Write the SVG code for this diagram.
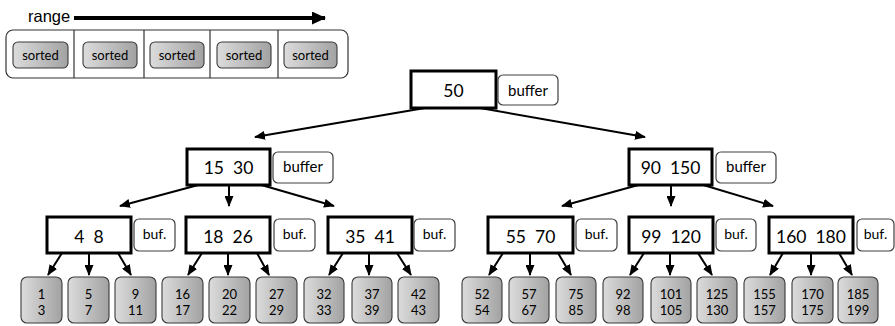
<svg xmlns="http://www.w3.org/2000/svg" width="895" height="326" viewBox="0 0 895 326">
<defs>
<linearGradient id="g" x1="0" y1="0" x2="1" y2="0">
<stop offset="0" stop-color="#dcdcdc"/>
<stop offset="1" stop-color="#a2a2a2"/>
</linearGradient>
<marker id="ah" markerUnits="userSpaceOnUse" markerWidth="11" markerHeight="9" refX="10" refY="4.5" orient="auto">
<path d="M0,0 L11,4.5 L0,9 z" fill="#000"/>
</marker>
<marker id="big" markerUnits="userSpaceOnUse" markerWidth="14" markerHeight="13" refX="13" refY="6.5" orient="auto">
<path d="M0,0 L14,6.5 L0,13 z" fill="#000"/>
</marker>
</defs>
<style>
text{font-family:Lato,"Open Sans",sans-serif;fill:#000;text-anchor:middle}
.node{fill:#fff;stroke:#000;stroke-width:3}
.buf{fill:#fff;stroke:#404040;stroke-width:1.2}
.leaf{fill:url(#g);stroke:#3a3a3a;stroke-width:1.1}
.nt{font-size:17.5px;white-space:pre}
.bt{font-size:15px}
.bs{font-size:14px}
.lt{font-size:13px}
.st{font-size:13px}
.edge{stroke:#000;stroke-width:2;fill:none;marker-end:url(#ah)}
</style>

<g id="legend">
<text x="28" y="22" style="font-family:'Liberation Sans',Arial,sans-serif;font-size:16.5px;text-anchor:start">range</text>
<line x1="74" y1="18" x2="325" y2="18" stroke="#000" stroke-width="4" marker-end="url(#big)"/>
<rect x="6" y="30" width="342" height="48" rx="7" fill="#fff" stroke="#333" stroke-width="1.2"/>
<line x1="74" y1="30" x2="74" y2="78" stroke="#333" stroke-width="1.2"/>
<line x1="144" y1="30" x2="144" y2="78" stroke="#333" stroke-width="1.2"/>
<line x1="210" y1="30" x2="210" y2="78" stroke="#333" stroke-width="1.2"/>
<line x1="278" y1="30" x2="278" y2="78" stroke="#333" stroke-width="1.2"/>
<rect class="leaf" x="13" y="42" width="55" height="26" rx="5"/><text class="st" x="40.5" y="59.5">sorted</text>
<rect class="leaf" x="83" y="42" width="54" height="26" rx="5"/><text class="st" x="110" y="59.5">sorted</text>
<rect class="leaf" x="150" y="42" width="54" height="26" rx="5"/><text class="st" x="177" y="59.5">sorted</text>
<rect class="leaf" x="217" y="42" width="54" height="26" rx="5"/><text class="st" x="244" y="59.5">sorted</text>
<rect class="leaf" x="284" y="42" width="53" height="26" rx="5"/><text class="st" x="310.5" y="59.5">sorted</text>
</g>

<g id="connectors">
<line class="edge" x1="425" y1="108" x2="255" y2="137"/>
<line class="edge" x1="480" y1="108" x2="645" y2="137"/>
<line class="edge" x1="202" y1="184" x2="120" y2="206"/>
<line class="edge" x1="229" y1="186" x2="229" y2="206"/>
<line class="edge" x1="258" y1="184" x2="334" y2="206"/>
<line class="edge" x1="642" y1="184" x2="562" y2="206"/>
<line class="edge" x1="671" y1="186" x2="671" y2="206"/>
<line class="edge" x1="700" y1="184" x2="773" y2="206"/>
<line class="edge" x1="62" y1="253" x2="48" y2="275"/>
<line class="edge" x1="89" y1="254" x2="89" y2="275"/>
<line class="edge" x1="118" y1="253" x2="131" y2="275"/>
<line class="edge" x1="202" y1="253" x2="188" y2="275"/>
<line class="edge" x1="228" y1="254" x2="228" y2="275"/>
<line class="edge" x1="257" y1="253" x2="269" y2="275"/>
<line class="edge" x1="343" y1="253" x2="329" y2="275"/>
<line class="edge" x1="369" y1="254" x2="369" y2="275"/>
<line class="edge" x1="397" y1="253" x2="411" y2="275"/>
<line class="edge" x1="503" y1="253" x2="489" y2="275"/>
<line class="edge" x1="530" y1="254" x2="530" y2="275"/>
<line class="edge" x1="558" y1="253" x2="571" y2="275"/>
<line class="edge" x1="644" y1="253" x2="630" y2="275"/>
<line class="edge" x1="670" y1="254" x2="670" y2="275"/>
<line class="edge" x1="698" y1="253" x2="712" y2="275"/>
<line class="edge" x1="783" y1="253" x2="770" y2="275"/>
<line class="edge" x1="811" y1="254" x2="811" y2="275"/>
<line class="edge" x1="839" y1="253" x2="852" y2="275"/>
</g>

<g id="n50"><rect class="node" x="411" y="71" width="85" height="37"/><text class="nt" x="453.5" y="97">50</text></g>
<g id="b50"><rect class="buf" x="498" y="75" width="60" height="30" rx="5"/><text class="bt" x="528" y="96">buffer</text></g>

<g id="n15_30"><rect class="node" x="187" y="149" width="83" height="36"/><text class="nt" x="228.5" y="174">15  30</text></g>
<g id="b15_30"><rect class="buf" x="273" y="152" width="60" height="31" rx="5"/><text class="bt" x="303" y="172">buffer</text></g>

<g id="n90_150"><rect class="node" x="629" y="149" width="83" height="36"/><text class="nt" x="670.5" y="174">90  150</text></g>
<g id="b90_150"><rect class="buf" x="716" y="152" width="60" height="31" rx="5"/><text class="bt" x="746" y="172">buffer</text></g>

<g id="n4_8"><rect class="node" x="47" y="217" width="84" height="36"/><text class="nt" x="89" y="243">4  8</text></g>
<g id="b4_8"><rect class="buf" x="134" y="219" width="41" height="32" rx="5"/><text class="bs" x="154.5" y="239">buf.</text></g>

<g id="n18_26"><rect class="node" x="186" y="217" width="84" height="36"/><text class="nt" x="228" y="243">18  26</text></g>
<g id="b18_26"><rect class="buf" x="274" y="219" width="41" height="32" rx="5"/><text class="bs" x="294.5" y="239">buf.</text></g>

<g id="n35_41"><rect class="node" x="328" y="217" width="84" height="36"/><text class="nt" x="370" y="243">35  41</text></g>
<g id="b35_41"><rect class="buf" x="414" y="219" width="41" height="32" rx="5"/><text class="bs" x="434.5" y="239">buf.</text></g>

<g id="n55_70"><rect class="node" x="488" y="217" width="85" height="36"/><text class="nt" x="530.5" y="243">55  70</text></g>
<g id="b55_70"><rect class="buf" x="576" y="219" width="41" height="32" rx="5"/><text class="bs" x="596.5" y="239">buf.</text></g>

<g id="n99_120"><rect class="node" x="629" y="217" width="84" height="36"/><text class="nt" x="671" y="243">99  120</text></g>
<g id="b99_120"><rect class="buf" x="716" y="219" width="40" height="32" rx="5"/><text class="bs" x="736" y="239">buf.</text></g>

<g id="n160_180"><rect class="node" x="769" y="217" width="84" height="36"/><text class="nt" x="811" y="243">160  180</text></g>
<g id="b160_180"><rect class="buf" x="857" y="219" width="37" height="32" rx="5"/><text class="bs" x="875.5" y="239">buf.</text></g>

<g id="leaf1"><rect class="leaf" x="21" y="277" width="41" height="46" rx="6"/><text class="lt" x="41.5" y="299">1</text><text class="lt" x="41.5" y="315">3</text></g>
<g id="leaf2"><rect class="leaf" x="68" y="277" width="41" height="46" rx="6"/><text class="lt" x="88.5" y="299">5</text><text class="lt" x="88.5" y="315">7</text></g>
<g id="leaf3"><rect class="leaf" x="115" y="277" width="41" height="46" rx="6"/><text class="lt" x="135.5" y="299">9</text><text class="lt" x="135.5" y="315">11</text></g>
<g id="leaf4"><rect class="leaf" x="162" y="277" width="41" height="46" rx="6"/><text class="lt" x="182.5" y="299">16</text><text class="lt" x="182.5" y="315">17</text></g>
<g id="leaf5"><rect class="leaf" x="209" y="277" width="41" height="46" rx="6"/><text class="lt" x="229.5" y="299">20</text><text class="lt" x="229.5" y="315">22</text></g>
<g id="leaf6"><rect class="leaf" x="256" y="277" width="41" height="46" rx="6"/><text class="lt" x="276.5" y="299">27</text><text class="lt" x="276.5" y="315">29</text></g>
<g id="leaf7"><rect class="leaf" x="304" y="277" width="40" height="46" rx="6"/><text class="lt" x="324" y="299">32</text><text class="lt" x="324" y="315">33</text></g>
<g id="leaf8"><rect class="leaf" x="352" y="277" width="40" height="46" rx="6"/><text class="lt" x="372" y="299">37</text><text class="lt" x="372" y="315">39</text></g>
<g id="leaf9"><rect class="leaf" x="398" y="277" width="41" height="46" rx="6"/><text class="lt" x="418.5" y="299">42</text><text class="lt" x="418.5" y="315">43</text></g>
<g id="leaf10"><rect class="leaf" x="462" y="277" width="40" height="46" rx="6"/><text class="lt" x="482" y="299">52</text><text class="lt" x="482" y="315">54</text></g>
<g id="leaf11"><rect class="leaf" x="509" y="277" width="40" height="46" rx="6"/><text class="lt" x="529" y="299">57</text><text class="lt" x="529" y="315">67</text></g>
<g id="leaf12"><rect class="leaf" x="556" y="277" width="40" height="46" rx="6"/><text class="lt" x="576" y="299">75</text><text class="lt" x="576" y="315">85</text></g>
<g id="leaf13"><rect class="leaf" x="603" y="277" width="40" height="46" rx="6"/><text class="lt" x="623" y="299">92</text><text class="lt" x="623" y="315">98</text></g>
<g id="leaf14"><rect class="leaf" x="651" y="277" width="40" height="46" rx="6"/><text class="lt" x="671" y="299">101</text><text class="lt" x="671" y="315">105</text></g>
<g id="leaf15"><rect class="leaf" x="697" y="277" width="40" height="46" rx="6"/><text class="lt" x="717" y="299">125</text><text class="lt" x="717" y="315">130</text></g>
<g id="leaf16"><rect class="leaf" x="744" y="277" width="41" height="46" rx="6"/><text class="lt" x="764.5" y="299">155</text><text class="lt" x="764.5" y="315">157</text></g>
<g id="leaf17"><rect class="leaf" x="792" y="277" width="41" height="46" rx="6"/><text class="lt" x="812.5" y="299">170</text><text class="lt" x="812.5" y="315">175</text></g>
<g id="leaf18"><rect class="leaf" x="838" y="277" width="40" height="46" rx="6"/><text class="lt" x="858" y="299">185</text><text class="lt" x="858" y="315">199</text></g>
</svg>
